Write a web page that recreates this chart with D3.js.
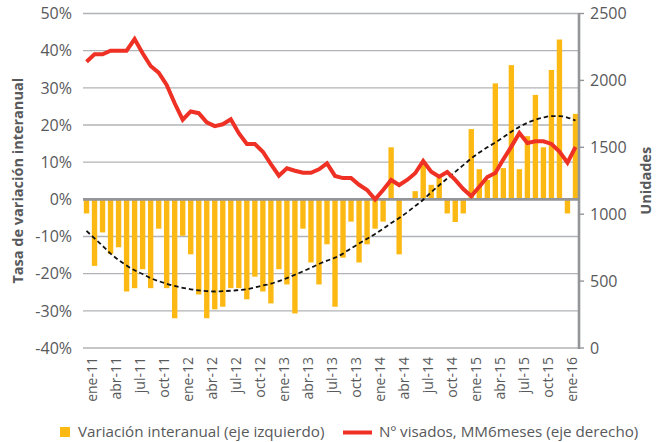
<!DOCTYPE html>
<html><head><meta charset="utf-8">
<script src="https://cdn.jsdelivr.net/npm/d3@7"></script>
<style>body{margin:0;background:#fff}text{font-family:"Open Sans",sans-serif;fill:#58595b}</style>
</head><body>
<svg id="c" width="662" height="442"></svg>
<script>
const months = ["ene-11","feb-11","mar-11","abr-11","may-11","jun-11","jul-11","ago-11","sep-11","oct-11","nov-11","dic-11",
"ene-12","feb-12","mar-12","abr-12","may-12","jun-12","jul-12","ago-12","sep-12","oct-12","nov-12","dic-12",
"ene-13","feb-13","mar-13","abr-13","may-13","jun-13","jul-13","ago-13","sep-13","oct-13","nov-13","dic-13",
"ene-14","feb-14","mar-14","abr-14","may-14","jun-14","jul-14","ago-14","sep-14","oct-14","nov-14","dic-14",
"ene-15","feb-15","mar-15","abr-15","may-15","jun-15","jul-15","ago-15","sep-15","oct-15","nov-15","dic-15",
"ene-16","feb-16"];
const tickMonths = ["ene-11","abr-11","jul-11","oct-11","ene-12","abr-12","jul-12","oct-12","ene-13","abr-13","jul-13","oct-13",
"ene-14","abr-14","jul-14","oct-14","ene-15","abr-15","jul-15","oct-15","ene-16"];
// Variación interanual (%), eje izquierdo
const variacion = [-3.8,-17.9,-8.9,-14.7,-12.9,-24.8,-23.9,-18.8,-23.9,-7.9,-23.9,-32.0,
-9.8,-14.8,-25.6,-32.0,-29.6,-28.9,-23.9,-23.9,-26.9,-20.8,-24.8,-28.0,
-18.8,-22.9,-30.7,-7.9,-17.0,-22.9,-12.1,-28.9,-15.7,-6.0,-17.0,-12.1,
-7.9,-6.0,14.0,-14.8,0,2.2,9.5,3.9,6.0,-3.8,-6.1,-3.8,
18.9,8.1,5.2,31.2,8.4,36.1,8.1,17.0,28.1,14.0,34.8,43.0,
-3.8,23.0];
// Nº visados, MM6meses, eje derecho
const visados = [2140,2195,2195,2222,2222,2222,2309,2203,2108,2058,1966,1829,
1706,1768,1755,1686,1658,1672,1709,1605,1525,1525,1467,1375,
1288,1343,1325,1310,1310,1336,1380,1286,1270,1270,1220,1181,
1111,1181,1256,1218,1256,1306,1398,1318,1280,1315,1256,1188,
1135,1205,1278,1308,1410,1505,1607,1532,1545,1545,1525,1468,
1385,1502];
// Línea de tendencia (%), eje izquierdo
const tendencia = [-8.5,-10.5,-12.5,-14.6,-16.3,-17.8,-19.1,-20.1,-21.2,-22.0,-22.7,-23.3,
-23.8,-24.2,-24.5,-24.7,-24.8,-24.7,-24.6,-24.4,-24.2,-23.7,-23.2,-22.7,
-22.0,-21.2,-20.3,-19.4,-18.4,-17.4,-16.5,-15.7,-14.6,-13.2,-11.9,-10.6,
-9.3,-7.9,-6.4,-5.0,-3.5,-1.8,-0.1,1.9,3.8,5.6,7.4,9.2,
11.0,12.6,14.0,15.3,16.7,18.2,19.5,20.6,21.4,22.0,22.4,22.4,
22.0,21.2];
const leftTicks = [50,40,30,20,10,0,-10,-20,-30,-40];
const rightTicks = [0,500,1000,1500,2000,2500];

const barColor = "#fdb913", lineColor = "#ee3124", gridColor = "#b1b3b6", axisColor = "#939598";

const svg = d3.select("#c");
const x = d3.scaleBand().domain(months).range([82.5, 579.5]).paddingInner(0.33).paddingOuter(0.165);
const yL = d3.scaleLinear().domain([-40, 50]).range([348, 13.5]);
const yR = d3.scaleLinear().domain([0, 2500]).range([348, 13.5]);
const cx = m => x(m) + x.bandwidth() / 2;

// gridlines
svg.append("g").selectAll("line").data(leftTicks.filter(d => d !== 0)).join("line")
  .attr("x1", 83).attr("x2", 579).attr("y1", d => yL(d)).attr("y2", d => yL(d))
  .attr("stroke", gridColor).attr("stroke-width", 1.4);

// bars
svg.append("g").selectAll("rect").data(months).join("rect")
  .attr("x", (m) => x(m)).attr("width", x.bandwidth())
  .attr("y", (m, i) => yL(Math.max(0, variacion[i])))
  .attr("height", (m, i) => Math.abs(yL(variacion[i]) - yL(0)))
  .attr("fill", barColor);

// zero line
svg.append("line").attr("x1", 83).attr("x2", 579).attr("y1", yL(0)).attr("y2", yL(0))
  .attr("stroke", axisColor).attr("stroke-width", 2.8);

// trend (dashed)
svg.append("path").datum(months)
  .attr("d", d3.line().x(m => cx(m)).y((m, i) => yL(tendencia[i])).curve(d3.curveMonotoneX))
  .attr("fill", "none").attr("stroke", "#111").attr("stroke-width", 1.8).attr("stroke-dasharray", "4.5,3");

// red line
svg.append("path").datum(months)
  .attr("d", d3.line().x(m => cx(m)).y((m, i) => yR(visados[i])))
  .attr("fill", "none").attr("stroke", lineColor).attr("stroke-width", 4).attr("stroke-linejoin", "miter");

// right axis
const rAxis = svg.append("g").attr("transform", "translate(579,0)");
rAxis.append("line").attr("x1", 0).attr("x2", 0).attr("y1", 13).attr("y2", 349)
  .attr("stroke", axisColor).attr("stroke-width", 2.6);
rAxis.selectAll("line.t").data(rightTicks).join("line").attr("class", "t")
  .attr("x1", 0).attr("x2", 5).attr("y1", d => yR(d)).attr("y2", d => yR(d))
  .attr("stroke", axisColor).attr("stroke-width", 1.4);
rAxis.selectAll("text").data(rightTicks).join("text")
  .attr("x", 11).attr("y", d => yR(d)).attr("dy", "0.36em")
  .attr("font-size", 16).text(d => d);

// left axis labels
svg.append("g").selectAll("text").data(leftTicks).join("text")
  .attr("x", 72).attr("y", d => yL(d)).attr("dy", "0.36em").attr("text-anchor", "end")
  .attr("font-size", 16).text(d => d + "%");

// x labels
svg.append("g").selectAll("text").data(tickMonths).join("text")
  .attr("transform", m => `translate(${cx(m) + 10},357) rotate(-90)`)
  .attr("text-anchor", "end").attr("font-size", 14).text(m => m);

// axis titles
svg.append("text").attr("transform", `translate(23,${(13.5 + 348) / 2}) rotate(-90)`)
  .attr("text-anchor", "middle").attr("font-size", 14.5).attr("font-weight", "bold")
  .text("Tasa de variación interanual");
svg.append("text").attr("transform", `translate(651,${(13.5 + 348) / 2}) rotate(-90)`)
  .attr("text-anchor", "middle").attr("font-size", 14.5).attr("font-weight", "bold")
  .text("Unidades");

// legend
svg.append("rect").attr("x", 60).attr("y", 427).attr("width", 10).attr("height", 10).attr("fill", barColor);
svg.append("text").attr("x", 78).attr("y", 437).attr("font-size", 15.2).text("Variación interanual (eje izquierdo)");
svg.append("line").attr("x1", 343).attr("x2", 372).attr("y1", 432.5).attr("y2", 432.5)
  .attr("stroke", lineColor).attr("stroke-width", 4);
svg.append("text").attr("x", 379).attr("y", 437).attr("font-size", 15.2).text("Nº visados, MM6meses (eje derecho)");
</script>
</body></html>
